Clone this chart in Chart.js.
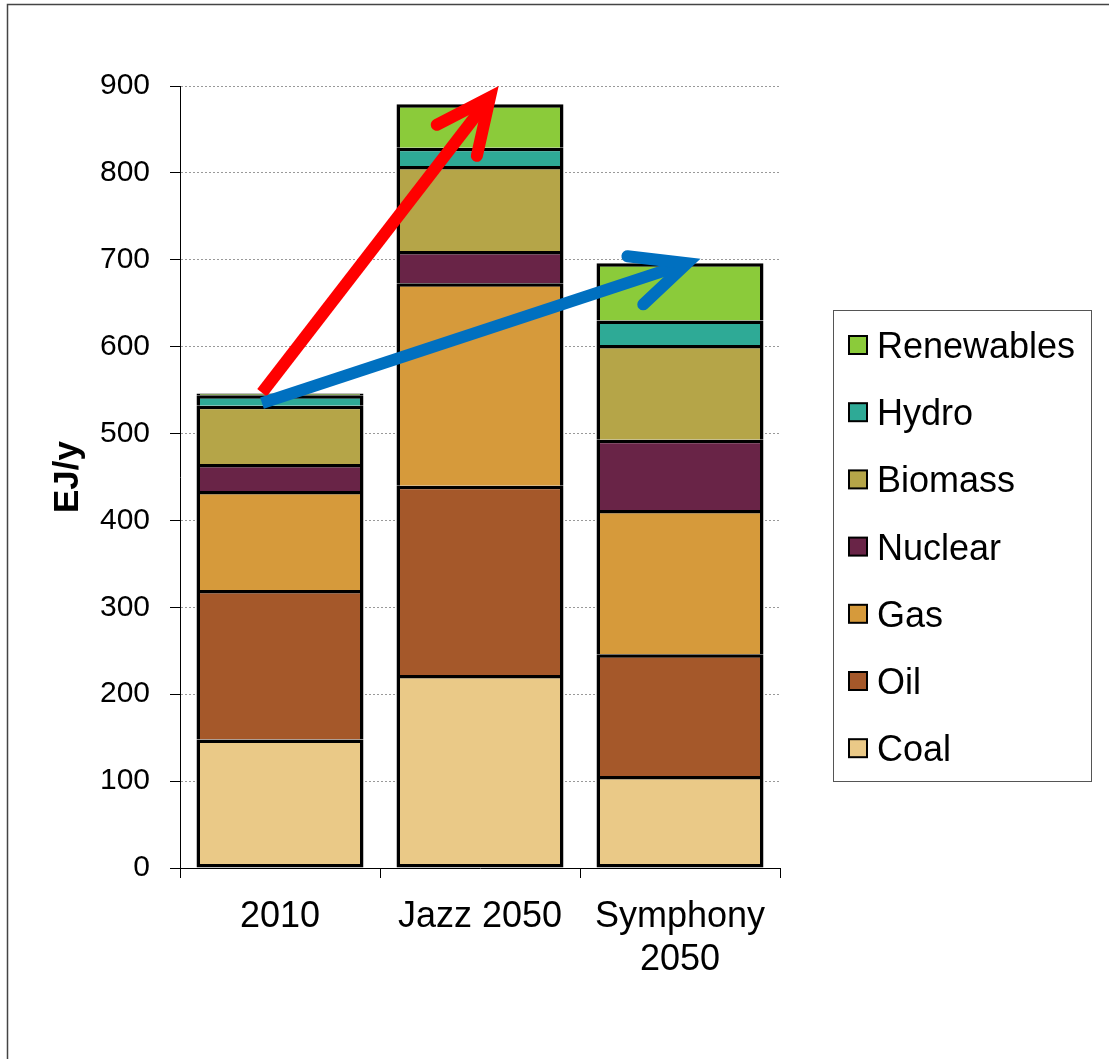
<!DOCTYPE html>
<html lang="en">
<head>
    <meta charset="UTF-8">
    <title>Energy demand scenarios</title>
    <script src="https://cdn.jsdelivr.net/npm/chart.js"></script>
    <style>
        body {
            margin: 0;
            background: #fff;
        }
        canvas {
            display: block;
        }
    </style>
</head>
<body>
    <canvas id="energyChart" width="1109" height="1059"></canvas>

    <script>
        // categories and stacked values (EJ/y)
        const categories = ['2010', 'Jazz 2050', ['Symphony', '2050']];
        const seriesNames = ['Coal', 'Oil', 'Gas', 'Nuclear', 'Biomass', 'Hydro', 'Renewables'];
        const coal = [148, 222, 106];
        const oil = [172, 218, 140];
        const gas = [114, 233, 166];
        const nuclear = [31, 37, 81];
        const biomass = [67, 98, 109];
        const hydro = [12, 21, 28];
        const renewables = [2, 50, 66];
        const yTicks = [0, 100, 200, 300, 400, 500, 600, 700, 800, 900];

        const seriesValues = [coal, oil, gas, nuclear, biomass, hydro, renewables];
        const colors = ['#EAC987', '#A5582A', '#D69A3B', '#692447', '#B5A548', '#2EAA96', '#8BCB3A'];

        // arrows: from the 2010 top towards each scenario top (category index, value)
        const arrows = [
            { from: [-0.09, 547], to: [1.05, 887], color: '#FF0000' },
            { from: [-0.09, 535], to: [2.035, 696], color: '#0070C0' }
        ];

        const datasets = seriesNames.map((name, i) => ({
            label: name,
            data: seriesValues[i],
            backgroundColor: colors[i],
            borderColor: '#000',
            borderWidth: i === 0 ? 3.5 : { top: 3.5, left: 3.5, right: 3.5, bottom: 0 },
            borderSkipped: false,
            barPercentage: 0.835,
            categoryPercentage: 1
        }));

        const framePlugin = {
            id: 'frame',
            beforeDraw(chart) {
                const ctx = chart.ctx;
                ctx.save();
                ctx.fillStyle = '#fff';
                ctx.fillRect(0, 0, chart.width, chart.height);
                ctx.strokeStyle = '#444';
                ctx.lineWidth = 1.5;
                ctx.strokeRect(7.5, 4.5, chart.width + 20, chart.height + 20);
                ctx.restore();
            }
        };

        const arrowPlugin = {
            id: 'arrows',
            afterDatasetsDraw(chart) {
                const ctx = chart.ctx;
                const xs = chart.scales.x, ys = chart.scales.y;
                ctx.save();
                arrows.forEach(a => {
                    const x1 = xs.getPixelForValue(a.from[0]), y1 = ys.getPixelForValue(a.from[1]);
                    const x2 = xs.getPixelForValue(a.to[0]), y2 = ys.getPixelForValue(a.to[1]);
                    const back = Math.atan2(y1 - y2, x1 - x2);
                    const spread = 25 * Math.PI / 180, len = 60;
                    ctx.strokeStyle = a.color;
                    ctx.lineWidth = 12;
                    ctx.lineCap = 'butt';
                    ctx.beginPath();
                    ctx.moveTo(x1, y1);
                    ctx.lineTo(x2 + Math.cos(back) * 6, y2 + Math.sin(back) * 6);
                    ctx.stroke();
                    ctx.lineCap = 'round';
                    ctx.lineJoin = 'miter';
                    ctx.beginPath();
                    ctx.moveTo(x2 + Math.cos(back + spread) * len, y2 + Math.sin(back + spread) * len);
                    ctx.lineTo(x2, y2);
                    ctx.lineTo(x2 + Math.cos(back - spread) * len, y2 + Math.sin(back - spread) * len);
                    ctx.stroke();
                });
                ctx.restore();
            }
        };

        const legendPlugin = {
            id: 'boxLegend',
            afterDraw(chart) {
                const ctx = chart.ctx;
                ctx.save();
                ctx.strokeStyle = '#555';
                ctx.lineWidth = 1;
                ctx.strokeRect(833.5, 310.5, 258, 471);
                ctx.font = '36px "Liberation Sans", Arial, sans-serif';
                ctx.textBaseline = 'alphabetic';
                ctx.textAlign = 'left';
                const items = chart.data.datasets.slice().reverse();
                items.forEach((ds, i) => {
                    const cy = 345 + i * 67.2;
                    ctx.fillStyle = '#000';
                    ctx.fillRect(848, cy - 10, 20, 20);
                    ctx.fillStyle = ds.backgroundColor;
                    ctx.fillRect(850, cy - 8, 16, 16);
                    ctx.fillStyle = '#000';
                    ctx.fillText(ds.label, 877, cy + 13);
                });
                ctx.restore();
            }
        };

        new Chart(document.getElementById('energyChart'), {
            type: 'bar',
            data: { labels: categories, datasets: datasets },
            options: {
                responsive: false,
                animation: false,
                layout: { padding: { top: 86, right: 329, bottom: 0, left: 0 } },
                plugins: {
                    legend: { display: false },
                    tooltip: { enabled: false }
                },
                scales: {
                    x: {
                        stacked: true,
                        afterFit(scale) { scale.height = 191; },
                        grid: {
                            offset: true,
                            drawOnChartArea: false,
                            tickLength: 10,
                            tickColor: '#000'
                        },
                        border: { color: '#000', width: 1 },
                        ticks: {
                            color: '#000',
                            padding: 17,
                            maxRotation: 0,
                            font: { family: '"Liberation Sans", Arial, sans-serif', size: 36 }
                        }
                    },
                    y: {
                        stacked: true,
                        min: 0,
                        max: 900,
                        afterFit(scale) { scale.width = 180; },
                        afterBuildTicks(scale) { scale.ticks = yTicks.map(v => ({ value: v })); },
                        grid: {
                            color: '#999',
                            tickColor: '#000',
                            tickLength: 10,
                            lineWidth: 1
                        },
                        border: { color: '#000', width: 1, dash: [2, 2] },
                        ticks: {
                            color: '#000',
                            padding: 20,
                            font: { family: '"Liberation Sans", Arial, sans-serif', size: 30 }
                        },
                        title: {
                            display: true,
                            text: 'EJ/y',
                            color: '#000',
                            padding: { top: 47, bottom: 0 },
                            font: { family: '"Liberation Sans", Arial, sans-serif', size: 35, weight: 'bold' }
                        }
                    }
                }
            },
            plugins: [framePlugin, arrowPlugin, legendPlugin]
        });
    </script>
</body>
</html>
